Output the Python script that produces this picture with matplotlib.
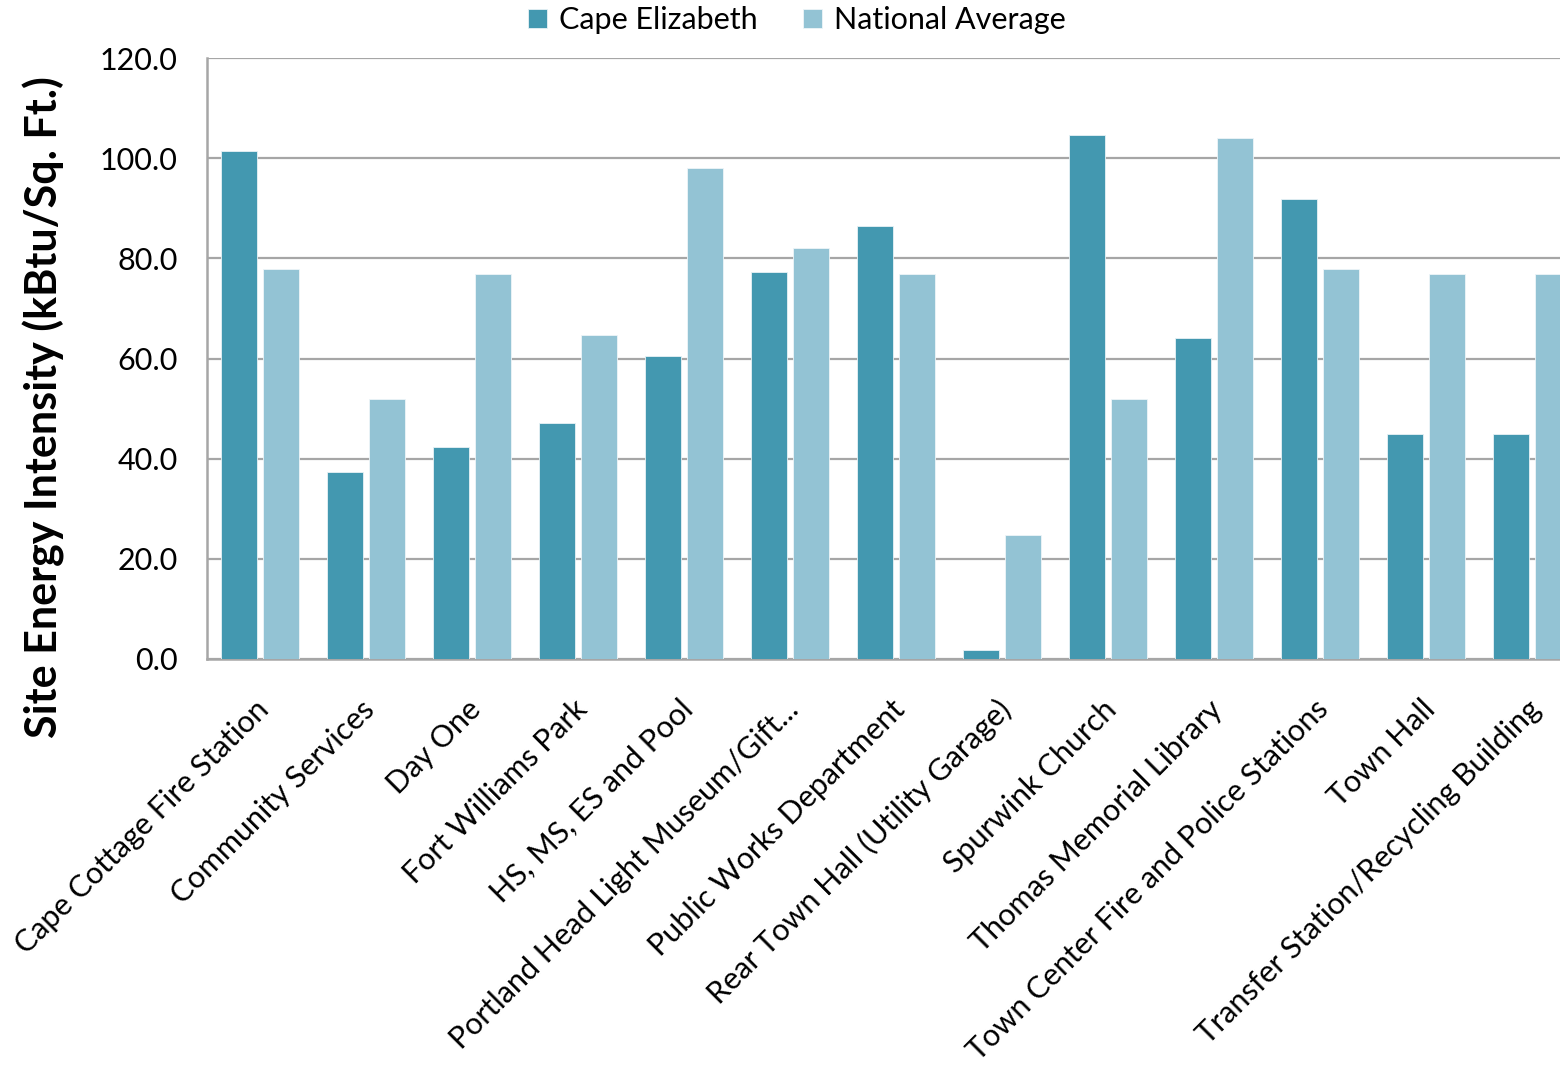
#!/usr/bin/env python3
"""Site energy intensity: Cape Elizabeth buildings vs national average."""
import matplotlib
matplotlib.use("Agg")
import matplotlib.pyplot as plt
import numpy as np

BUILDINGS = [
    "Cape Cottage Fire Station",
    "Community Services",
    "Day One",
    "Fort Williams Park",
    "HS, MS, ES and Pool",
    "Portland Head Light Museum/Gift...",
    "Public Works Department",
    "Rear Town Hall (Utility Garage)",
    "Spurwink Church",
    "Thomas Memorial Library",
    "Town Center Fire and Police Stations",
    "Town Hall",
    "Transfer Station/Recycling Building",
]
CAPE_ELIZABETH = [101.4, 37.3, 42.3, 47.1, 60.5, 77.3, 86.5, 1.8, 104.6, 64.1, 91.9, 44.9, 44.9]
NATIONAL_AVG = [77.9, 51.9, 76.9, 64.7, 98.0, 82.1, 76.9, 24.8, 51.9, 104.0, 77.9, 76.9, 76.9]

DARK = "#4398B0"
LIGHT = "#93C3D4"
GRID = "#A6A6A6"

plt.rcParams["font.family"] = ["Lato", "DejaVu Sans"]

fig = plt.figure(figsize=(15.6, 10.65), dpi=100)
ax = fig.add_axes([207 / 1560, 1 - 659 / 1065, 1 - 207 / 1560, (659 - 58) / 1065])

x = np.arange(len(BUILDINGS))
w = 0.345
ax.bar(x - 0.2, CAPE_ELIZABETH, width=w, color=DARK, edgecolor="#E8F2F5",
       linewidth=0.6, label="Cape Elizabeth", zorder=3)
ax.bar(x + 0.2, NATIONAL_AVG, width=w, color=LIGHT, edgecolor="#EEF5F8",
       linewidth=0.6, label="National Average", zorder=3)

ax.set_ylim(0, 120)
ax.set_yticks(np.arange(0, 121, 20))
ax.set_yticklabels([f"{v:.1f}" for v in np.arange(0, 121, 20)], fontsize=22)
ax.yaxis.grid(True, color=GRID, linewidth=1.6, zorder=0)
ax.set_axisbelow(True)
ax.tick_params(axis="y", length=0, pad=21)
ax.tick_params(axis="x", length=0, pad=33)

ax.set_xlim(-0.5, (1560 - 207) / 106 - 0.5)
ax.set_xticks(x + 0.04)
ax.set_xticklabels(BUILDINGS, rotation=45, ha="right", va="center",
                   rotation_mode="anchor", fontsize=22)

for side in ["top", "right"]:
    ax.spines[side].set_visible(False)
for side in ["left", "bottom"]:
    ax.spines[side].set_color(GRID)
    ax.spines[side].set_linewidth(1.8)

ax.set_ylabel("Site Energy Intensity (kBtu/Sq. Ft.)", fontsize=31,
              fontweight="bold")
ax.yaxis.set_label_coords(-0.105, 0.42)

fig.legend(loc="center", bbox_to_anchor=(797 / 1560, 1 - 20 / 1065), ncol=2,
           frameon=False, fontsize=22, handlelength=0.6, handleheight=0.6,
           handletextpad=0.4, columnspacing=1.5)

fig.savefig("out.png", dpi=100)
plt.close()
print("Saved: out.png")
